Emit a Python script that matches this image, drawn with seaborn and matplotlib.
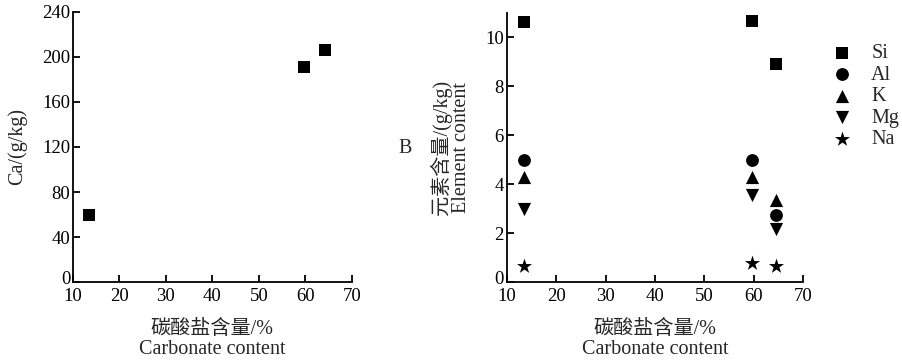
import matplotlib
matplotlib.use("Agg")
import matplotlib.pyplot as plt
import matplotlib.transforms as mtransforms
import seaborn as sns
import pandas as pd

# ---- data ----
carbonate = [13.4, 59.8, 64.3]
ca = [60, 191, 206]

carbonate_b = [13.5, 59.6, 64.4]
elements = ["Si", "Al", "K", "Mg", "Na"]
si = [10.63, 10.67, 8.89]
al = [4.98, 4.98, 2.72]
k = [4.29, 4.29, 3.33]
mg = [2.97, 3.55, 2.15]
na = [0.65, 0.78, 0.65]

x_ticks = [10, 20, 30, 40, 50, 60, 70]
ca_ticks = [0, 40, 80, 120, 160, 200, 240]
el_ticks = [0, 2, 4, 6, 8, 10]

sns.set_theme(style="ticks")
plt.rcParams["font.family"] = ["Liberation Serif", "Noto Sans CJK SC", "DejaVu Sans"]
plt.rcParams["axes.unicode_minus"] = False

df_a = pd.DataFrame({"x": carbonate, "y": ca})
rows = []
for name, vals in zip(elements, [si, al, k, mg, na]):
    for xv, yv in zip(carbonate_b, vals):
        rows.append({"x": xv, "y": yv, "el": name})
df_b = pd.DataFrame(rows)

fig = plt.figure(figsize=(9.02, 3.61), dpi=100)
ax1 = fig.add_axes([0.0809, 0.2188, 0.309, 0.748])
ax2 = fig.add_axes([0.5618, 0.2188, 0.3288, 0.746])

sns.scatterplot(data=df_a, x="x", y="y", marker="s", s=75, color="black",
                edgecolor="black", linewidth=0, ax=ax1)

markers = {"Si": "s", "Al": "o", "K": "^", "Mg": "v", "Na": "*"}
sizes = {"Si": 75, "Al": 85, "K": 90, "Mg": 90, "Na": 130}
for name in elements:
    sub = df_b[df_b["el"] == name]
    sns.scatterplot(data=sub, x="x", y="y", marker=markers[name], s=sizes[name],
                    color="black", edgecolor="black", linewidth=0, ax=ax2,
                    label=name)

FS_T = 13.5
FS_L = 14.5
for ax in (ax1, ax2):
    ax.set_xlim(10, 70)
    ax.set_xticks(x_ticks)
    for sp in ("top", "right"):
        ax.spines[sp].set_visible(False)
    for sp in ("left", "bottom"):
        ax.spines[sp].set_linewidth(1.3)
        ax.spines[sp].set_color("black")
    ax.tick_params(direction="in", length=5, width=1.3, labelsize=FS_T,
                   colors="black")
    ax.tick_params(axis="x", pad=4.5)
    ax.tick_params(axis="y", pad=2)
    ax.set_xlabel("碳酸盐含量/%\nCarbonate content", fontsize=FS_L, linespacing=1.1)
    ax.xaxis.set_label_coords(0.5, -0.14, transform=ax.transAxes)
    ax.xaxis.label.set_va("top")

ax1.set_ylim(0, 240)
ax1.set_yticks(ca_ticks)
ax1.set_ylabel("Ca/(g/kg)", fontsize=FS_L)
ax1.yaxis.set_label_coords(-0.163, 0.5)

ax2.set_ylim(0, 11)
ax2.set_yticks(el_ticks)
ax2.set_ylabel("元素含量/(g/kg)\nElement content", fontsize=FS_L, linespacing=1.0)
ax2.yaxis.set_label_coords(-0.122, 0.5)

# nudge the "0" y tick labels slightly upward (as in the reference)
fig.canvas.draw()
shift = mtransforms.ScaledTranslation(0, 5 / 100, fig.dpi_scale_trans)
for ax in (ax1, ax2):
    lbl = ax.get_yticklabels()[0]
    lbl.set_transform(lbl.get_transform() + shift)

fig.text(405 / 902, 1 - 148 / 361, "B", fontsize=FS_L, ha="center", va="center")

leg = ax2.legend(loc="upper left", bbox_to_anchor=(832 / 902, 1 - 44 / 361),
                 bbox_transform=fig.transFigure, frameon=False, fontsize=FS_L,
                 handletextpad=0.95, labelspacing=0.12, borderpad=0, borderaxespad=0,
                 handlelength=1.0)

fig.savefig("out.png", dpi=100)
